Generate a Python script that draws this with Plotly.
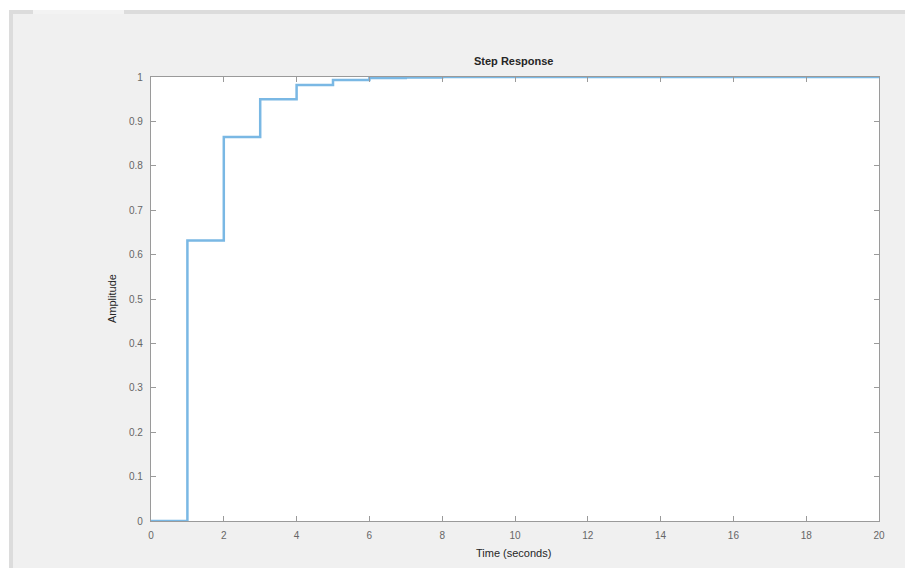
import plotly.graph_objects as go

# Step response samples (t in seconds, amplitude)
time_s = [0, 1, 2, 3, 4, 5, 6, 7, 8, 9, 10, 11, 12, 13, 14, 15, 16, 17, 18, 19, 20]
amplitude = [0.0, 0.632, 0.865, 0.950, 0.982, 0.993, 0.998, 0.999, 1.0, 1.0, 1.0,
             1.0, 1.0, 1.0, 1.0, 1.0, 1.0, 1.0, 1.0, 1.0, 1.0]
x_ticks = [0, 2, 4, 6, 8, 10, 12, 14, 16, 18, 20]
y_ticks = [0, 0.1, 0.2, 0.3, 0.4, 0.5, 0.6, 0.7, 0.8, 0.9, 1]
y_tick_labels = ["0", "0.1", "0.2", "0.3", "0.4", "0.5", "0.6", "0.7", "0.8", "0.9", "1"]

W, H = 905, 568
L, R, T, B = 151, 879, 77, 521
pw, ph = R - L, B - T


def px(x):
    return (x - L) / pw


def py(y):
    return (B - y) / ph


fig = go.Figure()
fig.add_trace(go.Scatter(
    x=time_s, y=amplitude, mode="lines", line_shape="hv",
    line=dict(color="#7ab8e4", width=2.5), showlegend=False, hoverinfo="skip",
))

axis_common = dict(
    showline=True, linecolor="#9a9a9a", linewidth=1.2, mirror="ticks",
    ticks="inside", ticklen=5, tickcolor="#9a9a9a", tickwidth=1,
    showgrid=False, zeroline=False, ticklabelstandoff=5,
    tickfont=dict(family="Liberation Sans, Arial, sans-serif", size=10, color="#666666"),
)

fig.update_xaxes(range=[0, 20], tickvals=x_ticks, **axis_common)
fig.update_yaxes(range=[0, 1], tickvals=y_ticks, ticktext=y_tick_labels, **axis_common)

shapes = [
    dict(type="rect", xref="paper", yref="paper", x0=px(0), x1=px(W), y0=py(0), y1=py(10),
         fillcolor="white", line_width=0, layer="below"),
    dict(type="rect", xref="paper", yref="paper", x0=px(0), x1=px(9), y0=py(0), y1=py(H),
         fillcolor="white", line_width=0, layer="below"),
    dict(type="rect", xref="paper", yref="paper", x0=px(9), x1=px(W), y0=py(10), y1=py(14),
         fillcolor="#dcdcdc", line_width=0, layer="below"),
    dict(type="rect", xref="paper", yref="paper", x0=px(33), x1=px(124), y0=py(10), y1=py(14),
         fillcolor="#f3f3f3", line_width=0, layer="below"),
    dict(type="rect", xref="paper", yref="paper", x0=px(9), x1=px(13), y0=py(10), y1=py(H),
         fillcolor="#dcdcdc", line_width=0, layer="below"),
]

font_fam = "Liberation Sans, Arial, sans-serif"
annotations = [
    dict(text="<b>Step Response</b>", xref="paper", yref="paper", x=px(513), y=py(61),
         showarrow=False, xanchor="center", yanchor="middle",
         font=dict(family=font_fam, size=11, color="#262626")),
    dict(text="Time (seconds)", xref="paper", yref="paper", x=px(513), y=py(553),
         showarrow=False, xanchor="center", yanchor="middle",
         font=dict(family=font_fam, size=11, color="#262626")),
    dict(text="Amplitude", xref="paper", yref="paper", x=px(112), y=py(299),
         showarrow=False, xanchor="center", yanchor="middle", textangle=-90,
         font=dict(family=font_fam, size=11, color="#262626")),
]

fig.update_layout(
    width=W, height=H,
    margin=dict(l=L, r=W - R, t=T, b=H - B, pad=0),
    paper_bgcolor="#f0f0f0", plot_bgcolor="white",
    shapes=shapes, annotations=annotations, showlegend=False,
)

fig.write_html("out.html")
